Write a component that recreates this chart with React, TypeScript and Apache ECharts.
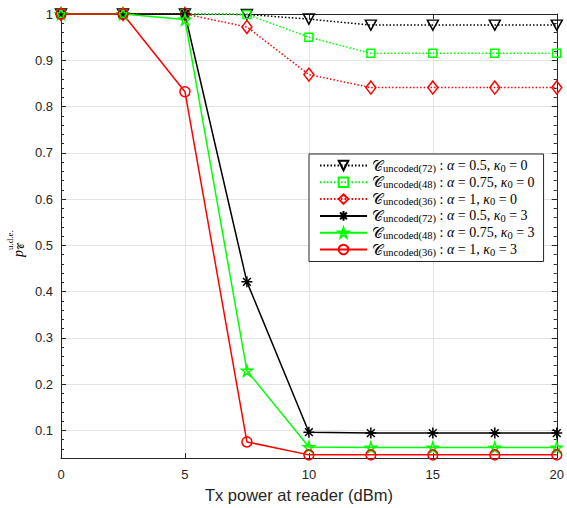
import { useEffect, useRef } from 'react';
import * as echarts from 'echarts';

// ---- data ----
const xValues = [0, 2.5, 5, 7.5, 10, 12.5, 15, 17.5, 20];
const unc72k0 = [1, 1, 1, 0.999, 0.989, 0.976, 0.976, 0.976, 0.976];
const unc48k0 = [1, 1, 1, 0.999, 0.95, 0.915, 0.915, 0.915, 0.915];
const unc36k0 = [1, 1, 1, 0.972, 0.869, 0.841, 0.841, 0.841, 0.841];
const unc72k3 = [1, 1, 1, 0.421, 0.096, 0.094, 0.094, 0.094, 0.094];
const unc48k3 = [1, 1, 0.988, 0.229, 0.064, 0.063, 0.063, 0.063, 0.063];
const unc36k3 = [1, 1, 0.832, 0.075, 0.047, 0.047, 0.047, 0.047, 0.047];
const yTicks = [0.1, 0.2, 0.3, 0.4, 0.5, 0.6, 0.7, 0.8, 0.9, 1];
const legendCodes = ['72', '48', '36', '72', '48', '36'];
const legendAlphas = ['0.5', '0.75', '1', '0.5', '0.75', '1'];
const legendKappas = ['0', '0', '0', '3', '3', '3'];
const xLabel = 'Tx power at reader (dBm)';

const seriesNames = ['s0', 's1', 's2', 's3', 's4', 's5'];
const seriesData = [unc72k0, unc48k0, unc36k0, unc72k3, unc48k3, unc36k3];

const AXIS = '#262626';
const GRID = '#e3e3e3';
const SANS = '"Liberation Sans", Arial, sans-serif';
const SERIF = '"Liberation Serif", "DejaVu Serif", serif';

const asteriskPath = 'path://M12 0L12 24M0 12L24 12M3.5 3.5L20.5 20.5M3.5 20.5L20.5 3.5';
const starPath =
  'path://M100 0L122.45 69.1L195.1 69.1L136.3 111.8L158.8 180.9L100 138.2L41.2 180.9L63.7 111.8L4.9 69.1L77.55 69.1Z';

const styles = [
  { color: '#000000', dash: [1.5, 2], symbol: 'triangle', rotate: 180, size: [11, 10] },
  { color: '#00ff00', dash: [1.5, 2], symbol: 'rect', rotate: 0, size: 8 },
  { color: '#ff0000', dash: [1.5, 2], symbol: 'diamond', rotate: 0, size: [10, 13] },
  { color: '#000000', dash: 'solid', symbol: asteriskPath, rotate: 0, size: 11 },
  { color: '#00ff00', dash: 'solid', symbol: starPath, rotate: 0, size: 11 },
  { color: '#ff0000', dash: 'solid', symbol: 'circle', rotate: 0, size: 10 },
];

export default function App() {
  const ref = useRef<HTMLDivElement>(null);
  useEffect(() => {
    document.body.style.margin = '0';
    if (!ref.current) return;
    const chart = echarts.init(ref.current, undefined, { renderer: 'svg' });

    const series = seriesNames.map((name, i) => {
      const st = styles[i];
      return {
        name,
        type: 'line',
        data: xValues.map((x, j) => [x, seriesData[i][j]]),
        symbol: st.symbol,
        symbolSize: st.size,
        symbolRotate: st.rotate,
        showAllSymbol: true,
        clip: false,
        lineStyle: { color: st.color, width: 1.5, type: st.dash },
        itemStyle: { color: 'rgba(255,255,255,0)', borderColor: st.color, borderWidth: 1.5 },
        emphasis: { disabled: true },
      };
    });

    const minorAxis = (position: string) => ({
      type: 'value',
      position,
      min: 0.04,
      max: 1,
      interval: 0.02,
      axisLine: { show: false },
      axisTick: { show: true, inside: true, length: 3, lineStyle: { color: AXIS } },
      axisLabel: { show: false },
      splitLine: { show: false },
    });

    chart.setOption({
      animation: false,
      grid: { left: 61, right: 8, top: 14, bottom: 48 },
      xAxis: [
        {
          type: 'value',
          position: 'bottom',
          min: 0,
          max: 20,
          interval: 5,
          name: xLabel,
          nameLocation: 'middle',
          nameGap: 25,
          nameTextStyle: { fontFamily: SANS, fontSize: 16.5, color: AXIS, padding: [0, 20, 0, 0] },
          axisLine: { show: true, lineStyle: { color: AXIS, width: 1 } },
          axisTick: { show: true, inside: true, length: 5, lineStyle: { color: AXIS } },
          axisLabel: { fontFamily: SANS, fontSize: 13, color: AXIS, margin: 10 },
          splitLine: { show: true, lineStyle: { color: GRID, width: 1 } },
        },
        {
          type: 'value',
          position: 'top',
          min: 0,
          max: 20,
          interval: 5,
          axisLine: { show: true, lineStyle: { color: AXIS, width: 1 } },
          axisTick: { show: true, inside: true, length: 5, lineStyle: { color: AXIS } },
          axisLabel: { show: false },
          splitLine: { show: false },
        },
      ],
      yAxis: [
        {
          type: 'value',
          position: 'left',
          min: 0.04,
          max: 1,
          axisLine: { show: true, lineStyle: { color: AXIS, width: 1 } },
          axisTick: { show: true, inside: true, length: 5, customValues: yTicks, lineStyle: { color: AXIS } },
          axisLabel: {
            customValues: yTicks,
            fontFamily: SANS,
            fontSize: 13,
            color: AXIS,
            margin: 8,
            formatter: (v: number) => (Math.abs(v - 1) < 1e-9 ? '1' : v.toFixed(1)),
          },
          splitLine: { show: true, lineStyle: { color: GRID, width: 1 } },
        },
        minorAxis('left'),
        {
          type: 'value',
          position: 'right',
          min: 0.04,
          max: 1,
          axisLine: { show: true, lineStyle: { color: AXIS, width: 1 } },
          axisTick: { show: true, inside: true, length: 5, customValues: yTicks, lineStyle: { color: AXIS } },
          axisLabel: { show: false },
          splitLine: { show: false },
        },
        minorAxis('right'),
      ],
      legend: {
        orient: 'vertical',
        left: 309,
        top: 154,
        padding: [4, 9, 4, 10],
        itemWidth: 47,
        itemHeight: 12,
        itemGap: 1.3,
        backgroundColor: '#ffffff',
        borderColor: AXIS,
        borderWidth: 1,
        borderRadius: 0,
        data: seriesNames,
        selectedMode: false,
        formatter: (name: string) => {
          const i = seriesNames.indexOf(name);
          return (
            '{c|𝒞}{s|uncoded(' + legendCodes[i] + ')}{t| : }{i|α}{t| = ' + legendAlphas[i] +
            ', }{i|κ}{s|0}{t| = ' + legendKappas[i] + '}'
          );
        },
        textStyle: {
          color: '#000',
          fontFamily: SERIF,
          rich: {
            c: { fontFamily: SERIF, fontSize: 15, lineHeight: 16, color: '#000' },
            t: { fontFamily: SERIF, fontSize: 14, lineHeight: 16, color: '#000' },
            i: { fontFamily: SERIF, fontStyle: 'italic', fontSize: 14, lineHeight: 16, color: '#000' },
            s: { fontFamily: SERIF, fontSize: 10.5, lineHeight: 10, verticalAlign: 'bottom', color: '#000' },
          },
        },
      },
      graphic: [
        {
          type: 'group',
          x: 11,
          y: 257,
          rotation: Math.PI / 2,
          children: [
            { type: 'text', x: 0, y: 0, style: { text: 'p', font: 'italic 14px ' + SERIF, fill: '#000', textBaseline: 'alphabetic' } },
            { type: 'text', x: 7, y: 5, style: { text: '𝒞', font: '9px ' + SERIF, fill: '#000', textBaseline: 'alphabetic' } },
            { type: 'text', x: 7, y: -6, style: { text: 'u.d.e.', font: '9px ' + SERIF, fill: '#000', textBaseline: 'alphabetic' } },
          ],
        },
      ],
      series,
    });
    return () => chart.dispose();
  }, []);
  return <div ref={ref} style={{ width: 567, height: 508 }} />;
}
